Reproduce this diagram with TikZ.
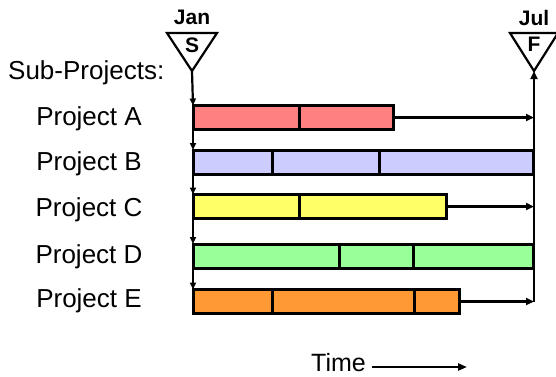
\documentclass[tikz,border=0pt]{standalone}
\usepackage{fontspec}
\setmainfont{Liberation Sans}
\usetikzlibrary{arrows.meta}
\definecolor{colA}{RGB}{255,128,128}
\definecolor{colB}{RGB}{204,204,255}
\definecolor{colC}{RGB}{255,255,102}
\definecolor{colD}{RGB}{153,255,153}
\definecolor{colE}{RGB}{255,153,51}
\begin{document}
\begin{tikzpicture}[x=1pt,y=-1pt,
  bar/.style={draw=black, line width=3pt, inner sep=0pt, outer sep=0pt, minimum height=24pt, anchor=north west},
  divider/.style={line width=3pt},
  conn/.style={line width=2.2pt, -{Triangle[length=8pt,width=7pt]}},
  lbl/.style={font=\fontsize{26}{30}\selectfont, inner sep=0pt},
  mil/.style={line width=2.2pt, line join=miter},
  miltxt/.style={font=\fontsize{21}{24}\selectfont\bfseries, inner sep=0pt}]
\useasboundingbox (0,0) rectangle (556,376);
% milestones
\coordinate (tipS) at (192,71);
\coordinate (tipF) at (534,71);
\draw[mil] (167,33) -- (217,33) -- (tipS) -- cycle;
\draw[mil] (510,33) -- (558,33) -- (tipF) -- cycle;
\node[miltxt] (jan) at (192,17) {Jan};
\node[miltxt] (s) at (192,45) {S};
\node[miltxt] (jul) at (534,18) {Jul};
\node[miltxt] (f) at (534,44) {F};
% labels
\node[lbl, anchor=west] (sub) at (8,73) {Sub-Projects:};
\node[lbl] (la) at (89,119) {Project A};
\node[lbl] (lb) at (89,164) {Project B};
\node[lbl] (lc) at (89,210) {Project C};
\node[lbl] (ld) at (89,257) {Project D};
\node[lbl] (le) at (89,301) {Project E};
% bars
\node[bar, fill=colA, minimum width=200pt] (A) at (193,105.5) {};
\node[bar, fill=colB, minimum width=340pt] (B) at (193,150) {};
\node[bar, fill=colC, minimum width=253pt] (C) at (193,194.5) {};
\node[bar, fill=colD, minimum width=340pt] (D) at (193,244) {};
\node[bar, fill=colE, minimum width=266pt] (E) at (193,289.5) {};
% dividers
\draw[divider] (A.north -| 299,0) -- (A.south -| 299,0);
\draw[divider] (B.north -| 272,0) -- (B.south -| 272,0);
\draw[divider] (B.north -| 379,0) -- (B.south -| 379,0);
\draw[divider] (C.north -| 299,0) -- (C.south -| 299,0);
\draw[divider] (D.north -| 339,0) -- (D.south -| 339,0);
\draw[divider] (D.north -| 413,0) -- (D.south -| 413,0);
\draw[divider] (E.north -| 272,0) -- (E.south -| 272,0);
\draw[divider] (E.north -| 414,0) -- (E.south -| 414,0);
% left chain
\draw[conn, -{Triangle[length=7pt,width=6pt]}] (tipS) -- (A.north west);
\draw[conn, -{Triangle[length=7pt,width=6pt]}] (A.south west) -- (B.north west);
\draw[conn, -{Triangle[length=7pt,width=6pt]}] (B.south west) -- (C.north west);
\draw[conn, -{Triangle[length=7pt,width=6pt]}] (C.south west) -- (D.north west);
\draw[conn, -{Triangle[length=7pt,width=6pt]}] (D.south west) -- (E.north west);
% right side
\coordinate (eEnd) at (E.east -| tipF);
\draw[conn] (eEnd) -- (tipF);
\draw[conn] (A.east) -- (A.east -| tipF);
\draw[conn] (C.east) -- (C.east -| tipF);
\draw[conn] (E.east) -- (eEnd);
% time
\node[lbl, font=\fontsize{25}{30}\selectfont, anchor=east] (time) at (366,363) {Time};
\coordinate (tend) at (467,367);
\draw[line width=2.5pt, -{Triangle[length=9pt,width=7pt]}] ([xshift=6pt]time.east |- tend) -- (tend);
\end{tikzpicture}
\end{document}
